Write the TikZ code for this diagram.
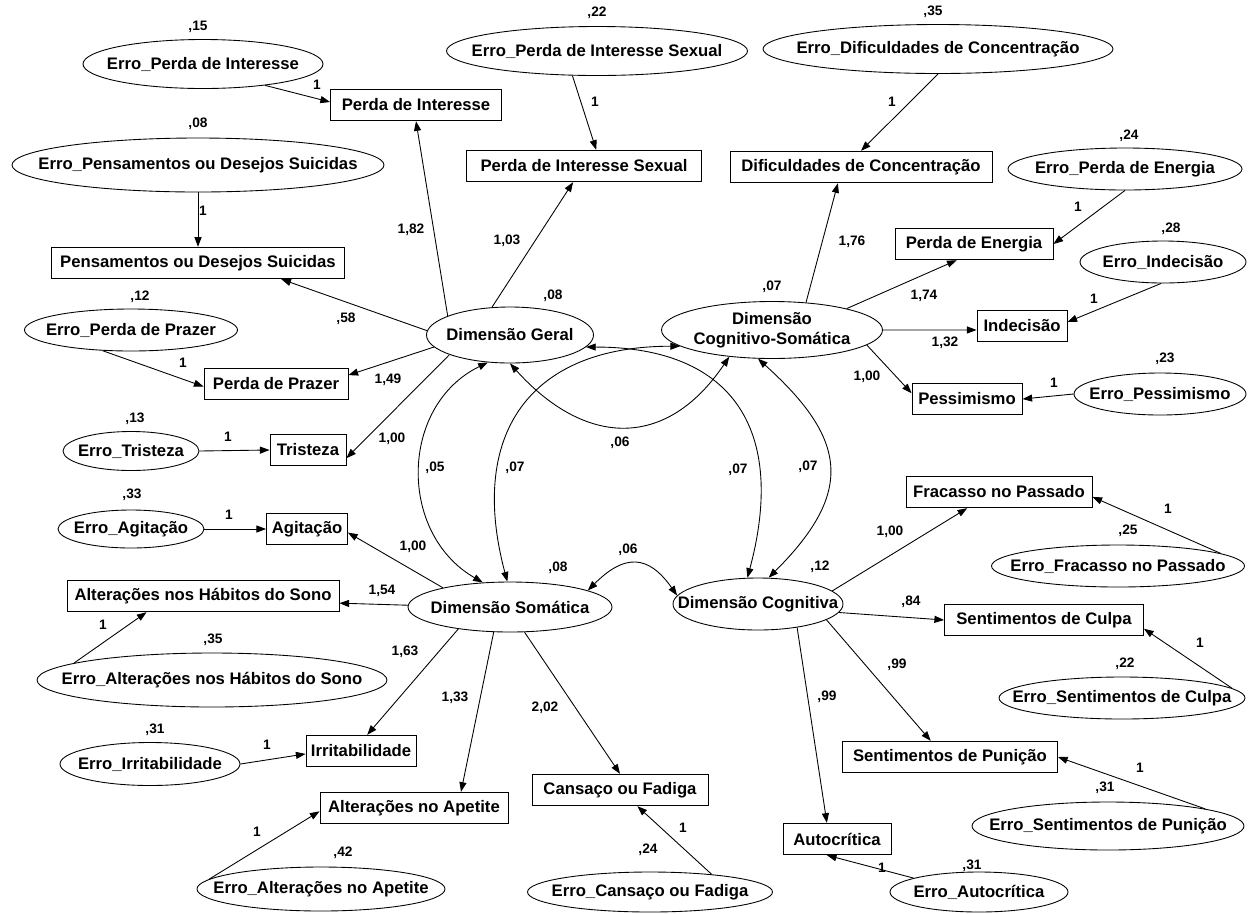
\documentclass[tikz,border=0pt]{standalone}
\usepackage{fontspec}
\setmainfont{Liberation Sans}
\usetikzlibrary{shapes.geometric}
\usetikzlibrary{arrows.meta}

\tikzset{
	txt/.style={font=\fontsize{9.5}{11.3}\selectfont\bfseries},
	obs/.style={txt, draw, rectangle, minimum height=0.63cm, inner sep=1pt},
	err/.style={txt, draw, ellipse, inner xsep=-4cm, inner ysep=-1cm},
	lat/.style={err, align=center},
	num/.style={font=\fontsize{7.8}{9}\selectfont\bfseries, inner sep=0pt},
}

\begin{document}
\begin{tikzpicture}[>={Triangle[length=5.5pt,width=4pt]}, line width=0.5pt]
	\useasboundingbox (0,0) rectangle (24.96,-18.26);
	
	% latentes
	\node[lat, minimum width=3.34cm, minimum height=1.12cm] (geral) at (10.20,-6.70) {Dimensão Geral};
	\node[lat, minimum width=4.42cm, minimum height=1.14cm] (cogs) at (15.44,-6.60) {Dimensão\\Cognitivo-Somática};
	\node[lat, minimum width=4.08cm, minimum height=1.00cm] (soma) at (10.20,-12.14) {Dimensão Somática};
	\node[lat, minimum width=3.40cm, minimum height=1.04cm] (cogn) at (15.16,-12.08) {Dimensão Cognitiva};
	
	% observadas
	\node[obs, minimum width=3.42cm] (pint) at (8.32,-2.10) {Perda de Interesse};
	\node[obs, minimum width=4.70cm] (psex) at (11.68,-3.32) {Perda de Interesse Sexual};
	\node[obs, minimum width=5.86cm] (pens) at (3.96,-5.26) {Pensamentos ou Desejos Suicidas};
	\node[obs, minimum width=2.88cm] (ppra) at (5.52,-7.68) {Perda de Prazer};
	\node[obs, minimum width=1.52cm] (tris) at (6.16,-9.00) {Tristeza};
	\node[obs, minimum width=1.62cm] (agit) at (6.14,-10.58) {Agitação};
	\node[obs, minimum width=5.44cm] (sono) at (4.06,-11.92) {Alterações nos Hábitos do Sono};
	\node[obs, minimum width=2.20cm] (irri) at (7.22,-15.02) {Irritabilidade};
	\node[obs, minimum width=3.76cm] (apet) at (8.28,-16.16) {Alterações no Apetite};
	\node[obs, minimum width=3.52cm] (cans) at (12.40,-15.80) {Cansaço ou Fadiga};
	\node[obs, minimum width=2.16cm] (auto) at (16.74,-16.78) {Autocrítica};
	\node[obs, minimum width=4.30cm] (puni) at (19.00,-15.14) {Sentimentos de Punição};
	\node[obs, minimum width=3.98cm] (culp) at (20.88,-12.40) {Sentimentos de Culpa};
	\node[obs, minimum width=3.72cm] (frac) at (19.98,-9.84) {Fracasso no Passado};
	\node[obs, minimum width=2.20cm] (pess) at (19.34,-7.98) {Pessimismo};
	\node[obs, minimum width=1.80cm] (inde) at (20.44,-6.52) {Indecisão};
	\node[obs, minimum width=3.16cm] (pene) at (19.48,-4.88) {Perda de Energia};
	\node[obs, minimum width=5.24cm] (difi) at (17.22,-3.34) {Dificuldades de Concentração};
	
	% erros
	\node[err, minimum width=4.80cm, minimum height=0.98cm] (e-pint) at (4.06,-1.28) {Erro\_Perda de Interesse};
	\node[err, minimum width=6.02cm, minimum height=0.98cm] (e-psex) at (11.94,-1.02) {Erro\_Perda de Interesse Sexual};
	\node[err, minimum width=7.44cm, minimum height=1.08cm] (e-pens) at (3.96,-3.30) {Erro\_Pensamentos ou Desejos Suicidas};
	\node[err, minimum width=4.26cm, minimum height=0.84cm] (e-ppra) at (2.62,-6.60) {Erro\_Perda de Prazer};
	\node[err, minimum width=2.72cm, minimum height=0.78cm] (e-tris) at (2.62,-9.02) {Erro\_Tristeza};
	\node[err, minimum width=2.92cm, minimum height=0.76cm] (e-agit) at (2.62,-10.58) {Erro\_Agitação};
	\node[err, minimum width=7.00cm, minimum height=1.08cm] (e-sono) at (4.24,-13.60) {Erro\_Alterações nos Hábitos do Sono};
	\node[err, minimum width=3.60cm, minimum height=0.86cm] (e-irri) at (3.00,-15.28) {Erro\_Irritabilidade};
	\node[err, minimum width=4.96cm, minimum height=0.88cm] (e-apet) at (6.42,-17.78) {Erro\_Alterações no Apetite};
	\node[err, minimum width=4.90cm, minimum height=0.80cm] (e-cans) at (13.00,-17.84) {Erro\_Cansaço ou Fadiga};
	\node[err, minimum width=3.56cm, minimum height=0.80cm] (e-auto) at (19.58,-17.84) {Erro\_Autocrítica};
	\node[err, minimum width=5.44cm, minimum height=0.96cm] (e-puni) at (22.16,-16.52) {Erro\_Sentimentos de Punição};
	\node[err, minimum width=4.92cm, minimum height=0.84cm] (e-culp) at (22.44,-13.96) {Erro\_Sentimentos de Culpa};
	\node[err, minimum width=5.06cm, minimum height=0.84cm] (e-frac) at (22.36,-11.32) {Erro\_Fracasso no Passado};
	\node[err, minimum width=3.44cm, minimum height=0.84cm] (e-pess) at (23.20,-7.88) {Erro\_Pessimismo};
	\node[err, minimum width=3.32cm, minimum height=0.84cm] (e-inde) at (23.26,-5.24) {Erro\_Indecisão};
	\node[err, minimum width=4.68cm, minimum height=0.84cm] (e-pene) at (22.50,-3.38) {Erro\_Perda de Energia};
	\node[err, minimum width=7.00cm, minimum height=0.98cm] (e-difi) at (18.76,-0.98) {Erro\_Dificuldades de Concentração};
	
	% cargas
	\draw[->] (geral.163) -- (pint.south);
	\draw[->] (geral.123) -- (psex.236);
	\draw[->] (geral.177) -- (pens.-11);
	\draw[->] (geral.189) -- (ppra.7);
	\draw[->] (geral.198) -- (tris.-12);
	\draw[->] (cogs.39) -- (difi.215);
	\draw[->] (cogs.16) -- (pene.223);
	\draw[->] (cogs.east) -- (inde.185);
	\draw[->] (cogs.-9) -- (pess.174);
	\draw[->] (soma.164) -- (agit.-5);
	\draw[->] (soma.179) -- (sono.-3);
	\draw[->] (soma.203) -- (irri.69);
	\draw[->] (soma.237) -- (apet.19);
	\draw[->] (soma.-60) -- (cans.north);
	\draw[->] (cogn.10) -- (frac.207);
	\draw[->] (cogn.-6) -- (culp.west);
	\draw[->] (cogn.-13) -- (puni.140);
	\draw[->] (cogn.-31) -- (auto.122);
	
	% erros -> observadas
	\draw[->] (e-pint.-19) -- (pint.178);
	\draw[->] (e-psex.225) -- (psex.53);
	\draw[->] (e-pens.south) -- (pens.north);
	\draw[->] (e-ppra.216) -- (ppra.182);
	\draw[->] (e-tris.east) -- (tris.west);
	\draw[->] (e-agit.east) -- (agit.west);
	\draw[->] (e-sono.173) -- (sono.196);
	\draw[->] (e-irri.east) -- (irri.183);
	\draw[->] (e-apet.175) -- (apet.182);
	\draw[->] (e-cans.16) -- (cans.-43);
	\draw[->] (e-auto.168) -- (auto.238);
	\draw[->] (e-puni.10) -- (puni.east);
	\draw[->] (e-culp.5) -- (culp.-5);
	\draw[->] (e-frac.7) -- (frac.-3);
	\draw[->] (e-pess.west) -- (pess.east);
	\draw[->] (e-inde.265) -- (inde.5);
	\draw[->] (e-pene.south) -- (pene.east);
	\draw[->] (e-difi.south) -- (difi.north);
	
	% covariancias
	\draw[<->] (geral.231) to[out=206, in=150, looseness=1.14] (soma.138);
	\draw[<->] (geral.-9) to[out=0, in=75, looseness=1.36] (cogn.112);
	\draw[<->] (cogs.190) to[out=180, in=105, looseness=1.33] (soma.96);
	\draw[<->] (geral.south) to[out=-48, in=236, looseness=1.31] (cogs.212);
	\draw[<->] (cogs.244) to[out=-42, in=45, looseness=1.41] (cogn.68);
	\draw[<->] (soma.12) to[out=45, in=125, looseness=1.46] (cogn.174);
	
	% variancias
	\node[num] (v-pint) at (3.96,-0.54) {,15};
	\node[num] (v-psex) at (11.94,-0.26) {,22};
	\node[num] (v-pens) at (3.96,-2.48) {,08};
	\node[num] (v-ppra) at (2.80,-5.94) {,12};
	\node[num] (v-tris) at (2.70,-8.38) {,13};
	\node[num] (v-agit) at (2.64,-9.90) {,33};
	\node[num] (v-sono) at (4.26,-12.80) {,35};
	\node[num] (v-irri) at (3.10,-14.60) {,31};
	\node[num] (v-apet) at (6.86,-17.06) {,42};
	\node[num] (v-cans) at (12.96,-17.00) {,24};
	\node[num] (v-auto) at (19.44,-17.32) {,31};
	\node[num] (v-puni) at (22.10,-15.76) {,31};
	\node[num] (v-culp) at (22.50,-13.28) {,22};
	\node[num] (v-frac) at (22.56,-10.62) {,25};
	\node[num] (v-pess) at (23.30,-7.18) {,23};
	\node[num] (v-inde) at (23.42,-4.58) {,28};
	\node[num] (v-pene) at (22.58,-2.72) {,24};
	\node[num] (v-difi) at (18.66,-0.24) {,35};
	\node[num] (v-geral) at (11.06,-5.92) {,08};
	\node[num] (v-cogs) at (15.44,-5.74) {,07};
	\node[num] (v-soma) at (11.16,-11.36) {,08};
	\node[num] (v-cogn) at (16.40,-11.34) {,12};
	
	% pesos dos erros
	\node[num] (w-pint) at (6.34,-1.70) {1};
	\node[num] (w-psex) at (11.90,-2.04) {1};
	\node[num] (w-pens) at (4.06,-4.22) {1};
	\node[num] (w-ppra) at (3.66,-7.26) {1};
	\node[num] (w-tris) at (4.56,-8.74) {1};
	\node[num] (w-agit) at (4.58,-10.30) {1};
	\node[num] (w-sono) at (2.06,-12.50) {1};
	\node[num] (w-irri) at (5.34,-14.90) {1};
	\node[num] (w-apet) at (5.14,-16.64) {1};
	\node[num] (w-cans) at (13.66,-16.56) {1};
	\node[num] (w-auto) at (17.64,-17.36) {1};
	\node[num] (w-puni) at (22.80,-15.36) {1};
	\node[num] (w-culp) at (24.00,-12.86) {1};
	\node[num] (w-frac) at (23.36,-10.18) {1};
	\node[num] (w-pess) at (21.08,-7.66) {1};
	\node[num] (w-inde) at (21.88,-5.98) {1};
	\node[num] (w-pene) at (21.56,-4.14) {1};
	\node[num] (w-difi) at (17.84,-2.04) {1};
	
	% cargas (valores)
	\node[num] (l-pint) at (8.22,-4.60) {1,82};
	\node[num] (l-psex) at (10.14,-4.82) {1,03};
	\node[num] (l-pens) at (6.92,-6.38) {,58};
	\node[num] (l-ppra) at (7.76,-7.60) {1,49};
	\node[num] (l-tris) at (7.84,-8.78) {1,00};
	\node[num] (l-difi) at (17.04,-4.84) {1,76};
	\node[num] (l-pene) at (18.48,-5.92) {1,74};
	\node[num] (l-inde) at (18.90,-6.86) {1,32};
	\node[num] (l-pess) at (17.34,-7.54) {1,00};
	\node[num] (l-agit) at (8.26,-10.94) {1,00};
	\node[num] (l-sono) at (7.64,-11.82) {1,54};
	\node[num] (l-irri) at (8.10,-13.04) {1,63};
	\node[num] (l-apet) at (9.10,-13.96) {1,33};
	\node[num] (l-cans) at (10.90,-14.16) {2,02};
	\node[num] (l-frac) at (17.80,-10.64) {1,00};
	\node[num] (l-culp) at (18.22,-12.04) {,84};
	\node[num] (l-puni) at (17.94,-13.30) {,99};
	\node[num] (l-auto) at (16.54,-13.94) {,99};
	
	% covariancias (valores)
	\node[num] (c-gs) at (8.70,-9.36) {,05};
	\node[num] (c-cs) at (10.30,-9.36) {,07};
	\node[num] (c-gc) at (12.40,-8.86) {,06};
	\node[num] (c-gn) at (14.76,-9.40) {,07};
	\node[num] (c-cn) at (16.16,-9.34) {,07};
	\node[num] (c-sn) at (12.56,-11.00) {,06};
\end{tikzpicture}
\end{document}
